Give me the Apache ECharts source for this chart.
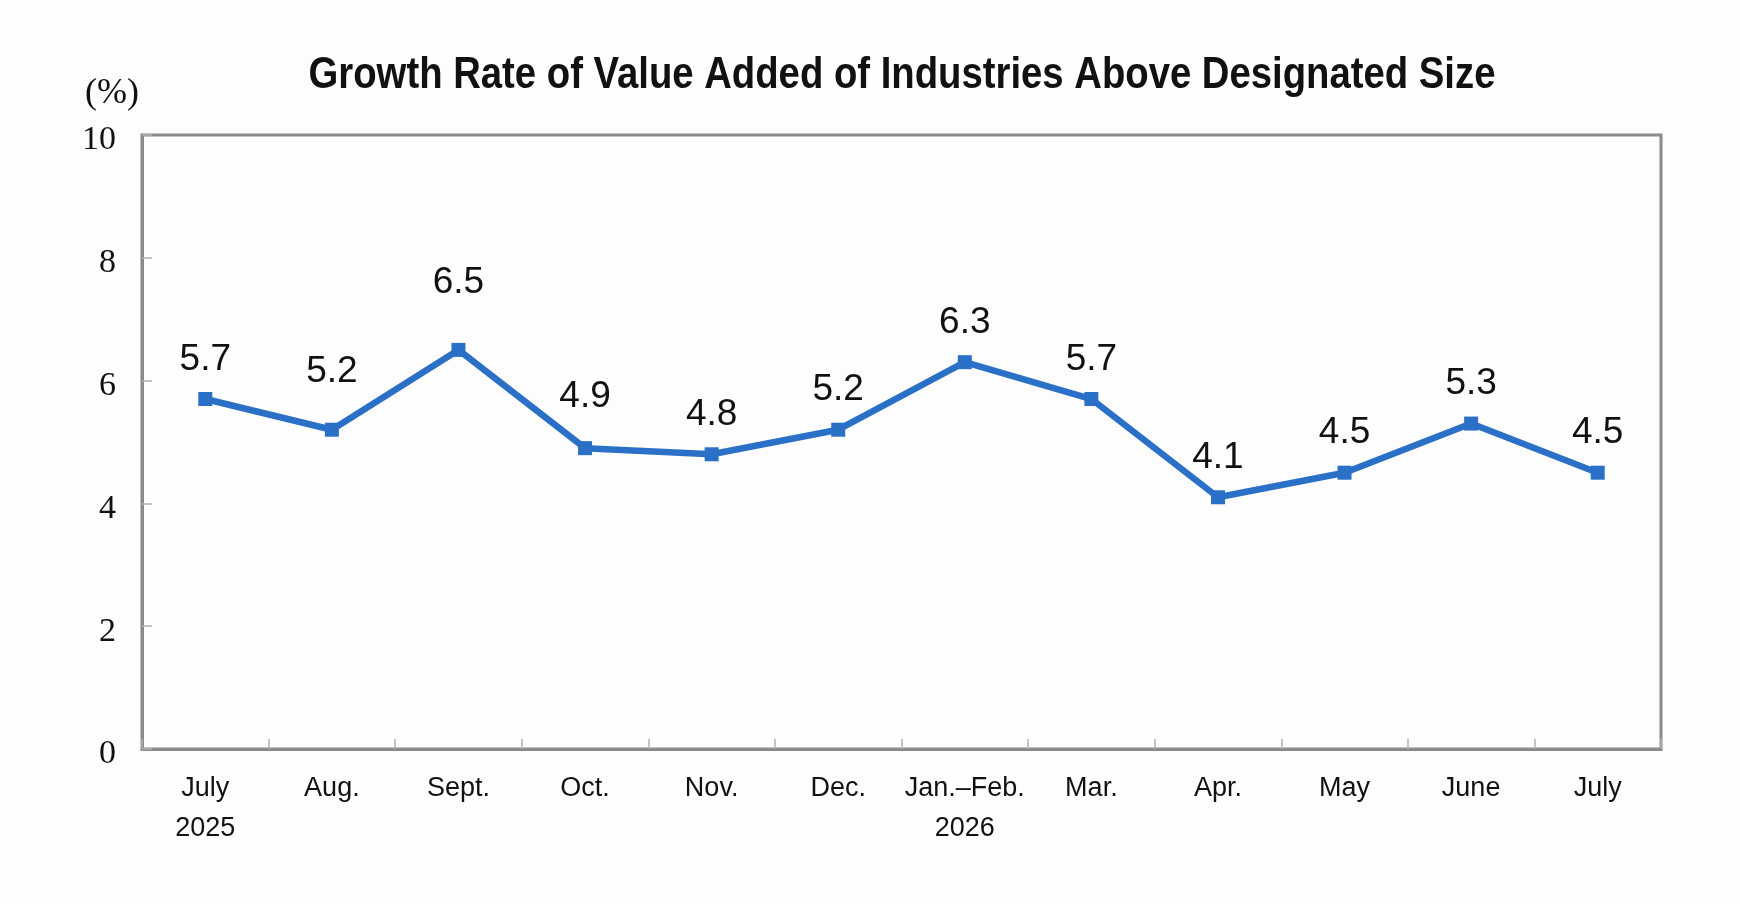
<!DOCTYPE html>
<html>
<head>
<meta charset="utf-8">
<script src="https://cdn.jsdelivr.net/npm/echarts@6/dist/echarts.min.js"></script>
<style>
  html, body { margin: 0; padding: 0; background: #fdfdfd; }
  #chart { width: 1740px; height: 904px; }
</style>
</head>
<body>
<div id="chart"></div>
<script>
var months = ['July\n2025', 'Aug.', 'Sept.', 'Oct.', 'Nov.', 'Dec.', 'Jan.\u2013Feb.\n2026', 'Mar.', 'Apr.', 'May', 'June', 'July'];
var growth = [5.7, 5.2, 6.5, 4.9, 4.8, 5.2, 6.3, 5.7, 4.1, 4.5, 5.3, 4.5];
var yTicks = [0, 2, 4, 6, 8, 10];

// extra lift for a few labels that sit higher in the original
var labelLift = [0, 18, 28, 12, 0, 0, 0, 0, 0, 0, 0, 0];

var sans = '"Liberation Sans", Arial, sans-serif';
var serif = '"Liberation Serif", "Times New Roman", serif';

var chart = echarts.init(document.getElementById('chart'));

var points = growth.map(function (v, i) {
  return {
    value: v,
    label: { distance: 14 + labelLift[i] }
  };
});

var option = {
  backgroundColor: '#fdfdfd',
  graphic: [{
    // title drawn as text with a horizontal squeeze to imitate a condensed face
    type: 'text',
    x: 902,
    y: 76,
    scaleX: 0.87,
    style: {
      text: 'Growth Rate of Value Added of Industries Above Designated Size',
      font: 'bold 44px ' + sans,
      fill: '#111',
      textAlign: 'center',
      textVerticalAlign: 'middle'
    }
  }, {
    type: 'text',
    left: 85,
    top: 76,
    style: { text: '(%)', font: '36px ' + serif, fill: '#111' }
  }],
  grid: {
    left: 142, right: 79, top: 135, bottom: 155,
    show: true,
    borderColor: '#8a8a8a',
    borderWidth: 3,
    backgroundColor: 'transparent'
  },
  xAxis: {
    type: 'category',
    data: months,
    boundaryGap: true,
    axisLine: { lineStyle: { color: '#8a8a8a', width: 3 } },
    axisTick: { show: true, inside: true, interval: 0, length: 10, lineStyle: { color: '#b0b0b0', width: 1.5 } },
    axisLabel: {
      interval: 0,
      margin: 20,
      fontFamily: sans,
      fontSize: 27,
      lineHeight: 40,
      color: '#111',
      verticalAlign: 'top'
    }
  },
  yAxis: {
    type: 'value',
    min: yTicks[0],
    max: yTicks[yTicks.length - 1],
    interval: 2,
    splitLine: { show: false },
    axisLine: { show: true, lineStyle: { color: '#8a8a8a', width: 3 } },
    axisTick: { show: true, inside: true, length: 10, lineStyle: { color: '#b0b0b0', width: 1.5 } },
    axisLabel: {
      margin: 26,
      formatter: '{v|{value}}',
      rich: {
        v: { fontFamily: serif, fontSize: 34, color: '#111', padding: [11, 0, 0, 0] }
      }
    }
  },
  series: [{
    type: 'line',
    data: points,
    symbol: 'rect',
    symbolSize: 14,
    lineStyle: { color: '#2a70c6', width: 6.5 },
    itemStyle: { color: '#2a70c6' },
    label: {
      show: true,
      position: 'top',
      fontFamily: sans,
      fontSize: 37,
      color: '#111'
    },
    animation: false
  }]
};

chart.setOption(option);
</script>
</body>
</html>
